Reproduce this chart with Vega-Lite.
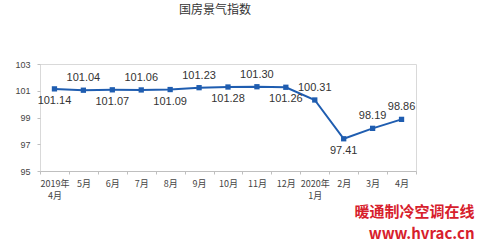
{
  "$schema": "https://vega.github.io/schema/vega-lite/v6.json",
  "autosize": {"type": "none"},
  "padding": {"left": 40, "top": 64, "right": 66, "bottom": 75},
  "width": 376,
  "height": 107,
  "background": "white",
  "title": {
    "text": "国房景气指数",
    "font": "Noto Sans CJK SC",
    "fontSize": 12,
    "fontWeight": "normal",
    "color": "#333333",
    "anchor": "middle",
    "dx": -13,
    "offset": 43
  },
  "config": {
    "view": {"stroke": "#d9d9d9", "strokeWidth": 1},
    "font": "Liberation Sans"
  },
  "data": {
    "values": [
      {"month": "2019年 4月", "value": 101.14},
      {"month": "5月", "value": 101.04},
      {"month": "6月", "value": 101.07},
      {"month": "7月", "value": 101.06},
      {"month": "8月", "value": 101.09},
      {"month": "9月", "value": 101.23},
      {"month": "10月", "value": 101.28},
      {"month": "11月", "value": 101.30},
      {"month": "12月", "value": 101.26},
      {"month": "2020年 1月", "value": 100.31},
      {"month": "2月", "value": 97.41},
      {"month": "3月", "value": 98.19},
      {"month": "4月", "value": 98.86}
    ]
  },
  "encoding": {
    "x": {
      "field": "month",
      "type": "nominal",
      "sort": null,
      "bandPosition": 0.5,
      "scale": {"type": "band", "paddingInner": 0, "paddingOuter": 0},
      "axis": {
        "labelExpr": "split(datum.label, ' ')",
        "labelAngle": 0,
        "labelFont": "Noto Sans CJK SC",
        "labelFontSize": 9,
        "labelColor": "#444444",
        "labelPadding": 5,
        "labelLineHeight": 12,
        "tickBand": "extent",
        "tickSize": 3,
        "tickColor": "#bfbfbf",
        "domainColor": "#bfbfbf",
        "title": ["暖通制冷空调在线", "www.hvrac.cn"],
        "titleFont": "Noto Sans CJK SC",
        "titleFontSize": 15,
        "titleFontWeight": "bold",
        "titleColor": "#d7202c",
        "titleAnchor": "end",
        "titleAlign": "right",
        "titleX": 434,
        "titleLineHeight": 22,
        "titlePadding": 4
      }
    },
    "y": {
      "field": "value",
      "type": "quantitative",
      "scale": {"domain": [95, 103], "nice": false, "zero": false},
      "axis": {
        "values": [95, 97, 99, 101, 103],
        "grid": false,
        "domain": false,
        "tickSize": 3,
        "tickColor": "#bfbfbf",
        "labelFont": "Liberation Sans",
        "labelFontSize": 9,
        "labelColor": "#444444",
        "labelPadding": 7,
        "title": null
      }
    }
  },
  "layer": [
    {
      "mark": {"type": "line", "color": "#1f5db0", "strokeWidth": 2}
    },
    {
      "mark": {"type": "square", "color": "#1f5db0", "opacity": 1, "size": 28, "filled": true}
    },
    {
      "transform": [{"filter": {"field": "month", "oneOf": ["5月", "7月", "9月", "11月", "2020年 1月", "3月", "4月"]}}],
      "mark": {"type": "text", "dy": -12, "fontSize": 11, "font": "Liberation Sans", "color": "#333333"},
      "encoding": {"text": {"field": "value", "type": "quantitative", "format": ".2f"}}
    },
    {
      "transform": [{"filter": {"field": "month", "oneOf": ["2019年 4月", "6月", "8月", "10月", "12月", "2月"]}}],
      "mark": {"type": "text", "dy": 12, "fontSize": 11, "font": "Liberation Sans", "color": "#333333"},
      "encoding": {"text": {"field": "value", "type": "quantitative", "format": ".2f"}}
    }
  ]
}
